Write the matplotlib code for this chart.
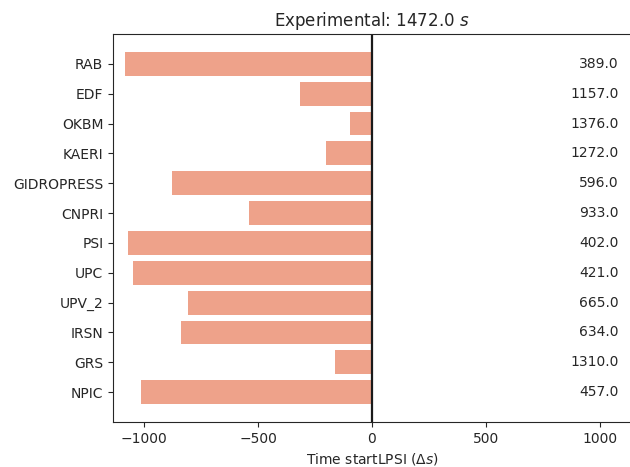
import matplotlib
matplotlib.use("Agg")
import matplotlib.pyplot as plt
import numpy as np

# Submitted values per participant (s), experimental reference
experimental = 1472.0
participants = ["NPIC", "GRS", "IRSN", "UPV_2", "UPC", "PSI",
                "CNPRI", "GIDROPRESS", "KAERI", "OKBM", "EDF", "RAB"]
values = [457.0, 1310.0, 634.0, 665.0, 421.0, 402.0,
          933.0, 596.0, 1272.0, 1376.0, 1157.0, 389.0]

diffs = np.array(values) - experimental
lim = np.abs(diffs).max()

plt.rcParams.update({
    "font.family": "DejaVu Sans",
    "text.color": "#262626",
    "axes.edgecolor": "#262626",
    "axes.labelcolor": "#262626",
    "xtick.color": "#262626",
    "ytick.color": "#262626",
})

fig = plt.figure(figsize=(6.3, 4.67), dpi=100)
ax = fig.add_axes([113 / 630, 45 / 467, 518 / 630, 388 / 467])
# right spine sits right on the figure edge in the original, so it is not seen
ax.spines["right"].set_visible(False)

y = np.arange(len(participants))
ax.barh(y, diffs, height=0.8, color="#EEA28A")
ax.axvline(0, color="#1a1a1a", lw=1.6)

for yi, v in zip(y, values):
    ax.text(lim, yi, f"{v:.1f}", ha="right", va="center", fontsize=10)

ax.set_yticks(y)
ax.set_yticklabels(participants)
ax.set_ylim(-1, len(participants))
ax.set_xlim(-lim * 1.05, lim * 1.05)
ax.set_xticks([-1000, -500, 0, 500, 1000])
ax.tick_params(labelsize=10)
ax.set_xlabel(r"Time startLPSI ($\Delta s$)", fontsize=10)
ax.set_title(f"Experimental: {experimental} $s$", fontsize=12)

fig.savefig("out.png", dpi=100)
